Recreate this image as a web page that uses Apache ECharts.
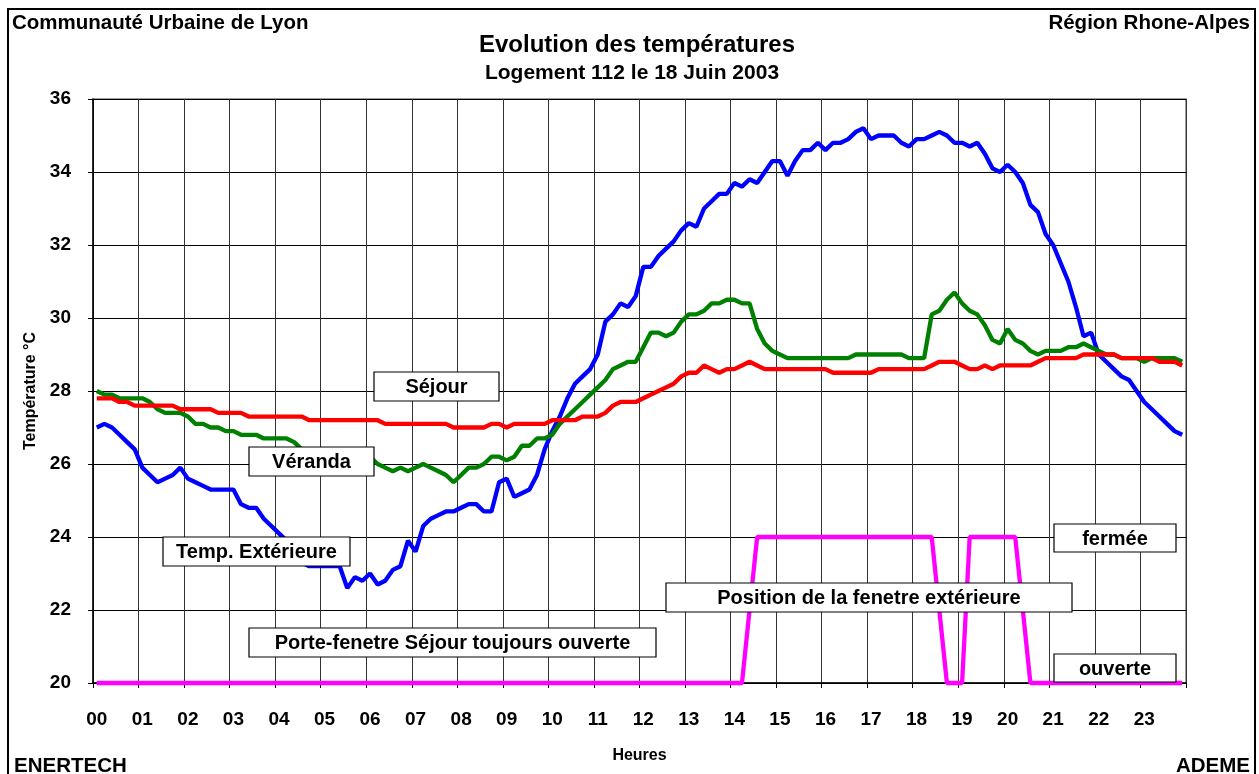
<!DOCTYPE html>
<html>
<head>
<meta charset="utf-8">
<script src="https://cdn.jsdelivr.net/npm/echarts@6/dist/echarts.min.js"></script>
<style>
  html, body { margin: 0; padding: 0; background: #fff; }
  #chart { width: 1259px; height: 774px; }
</style>
</head>
<body>
<div id="chart"></div>
<script>
// ---- Data (10-minute samples, 6 per hour) ----
const hourLabels = ['00','01','02','03','04','05','06','07','08','09','10','11',
                    '12','13','14','15','16','17','18','19','20','21','22','23'];
const yTicks = [20, 22, 24, 26, 28, 30, 32, 34, 36];

const tempExterieure = [
  [27.0,27.1,27.0,26.8,26.6,26.4],
  [25.9,25.7,25.5,25.6,25.7,25.9],
  [25.6,25.5,25.4,25.3,25.3,25.3],
  [25.3,24.9,24.8,24.8,24.5,24.3],
  [24.1,23.9,23.6,23.3,23.2,23.2],
  [23.2,23.2,23.2,22.6,22.9,22.8],
  [23.0,22.7,22.8,23.1,23.2,23.9],
  [23.6,24.3,24.5,24.6,24.7,24.7],
  [24.8,24.9,24.9,24.7,24.7,25.5],
  [25.6,25.1,25.2,25.3,25.7,26.4],
  [26.9,27.3,27.8,28.2,28.4,28.6],
  [29.0,29.9,30.1,30.4,30.3,30.6],
  [31.4,31.4,31.7,31.9,32.1,32.4],
  [32.6,32.5,33.0,33.2,33.4,33.4],
  [33.7,33.6,33.8,33.7,34.0,34.3],
  [34.3,33.9,34.3,34.6,34.6,34.8],
  [34.6,34.8,34.8,34.9,35.1,35.2],
  [34.9,35.0,35.0,35.0,34.8,34.7],
  [34.9,34.9,35.0,35.1,35.0,34.8],
  [34.8,34.7,34.8,34.5,34.1,34.0],
  [34.2,34.0,33.7,33.1,32.9,32.3],
  [32.0,31.5,31.0,30.3,29.5,29.6],
  [29.0,28.8,28.6,28.4,28.3,28.0],
  [27.7,27.5,27.3,27.1,26.9,26.8]
];

const veranda = [
  [28.0,27.9,27.9,27.8,27.8,27.8],
  [27.8,27.7,27.5,27.4,27.4,27.4],
  [27.3,27.1,27.1,27.0,27.0,26.9],
  [26.9,26.8,26.8,26.8,26.7,26.7],
  [26.7,26.7,26.6,26.4,26.3,26.2],
  [26.2,26.2,26.2,26.2,26.2,26.2],
  [26.2,26.0,25.9,25.8,25.9,25.8],
  [25.9,26.0,25.9,25.8,25.7,25.5],
  [25.7,25.9,25.9,26.0,26.2,26.2],
  [26.1,26.2,26.5,26.5,26.7,26.7],
  [26.8,27.1,27.3,27.5,27.7,27.9],
  [28.1,28.3,28.6,28.7,28.8,28.8],
  [29.2,29.6,29.6,29.5,29.6,29.9],
  [30.1,30.1,30.2,30.4,30.4,30.5],
  [30.5,30.4,30.4,29.7,29.3,29.1],
  [29.0,28.9,28.9,28.9,28.9,28.9],
  [28.9,28.9,28.9,28.9,29.0,29.0],
  [29.0,29.0,29.0,29.0,29.0,28.9],
  [28.9,28.9,30.1,30.2,30.5,30.7],
  [30.4,30.2,30.1,29.8,29.4,29.3],
  [29.7,29.4,29.3,29.1,29.0,29.1],
  [29.1,29.1,29.2,29.2,29.3,29.2],
  [29.1,29.0,29.0,28.9,28.9,28.9],
  [28.8,28.9,28.9,28.9,28.9,28.8]
];

const sejour = [
  [27.8,27.8,27.8,27.7,27.7,27.6],
  [27.6,27.6,27.6,27.6,27.6,27.5],
  [27.5,27.5,27.5,27.5,27.4,27.4],
  [27.4,27.4,27.3,27.3,27.3,27.3],
  [27.3,27.3,27.3,27.3,27.2,27.2],
  [27.2,27.2,27.2,27.2,27.2,27.2],
  [27.2,27.2,27.1,27.1,27.1,27.1],
  [27.1,27.1,27.1,27.1,27.1,27.0],
  [27.0,27.0,27.0,27.0,27.1,27.1],
  [27.0,27.1,27.1,27.1,27.1,27.1],
  [27.2,27.2,27.2,27.2,27.3,27.3],
  [27.3,27.4,27.6,27.7,27.7,27.7],
  [27.8,27.9,28.0,28.1,28.2,28.4],
  [28.5,28.5,28.7,28.6,28.5,28.6],
  [28.6,28.7,28.8,28.7,28.6,28.6],
  [28.6,28.6,28.6,28.6,28.6,28.6],
  [28.6,28.5,28.5,28.5,28.5,28.5],
  [28.5,28.6,28.6,28.6,28.6,28.6],
  [28.6,28.6,28.7,28.8,28.8,28.8],
  [28.7,28.6,28.6,28.7,28.6,28.7],
  [28.7,28.7,28.7,28.7,28.8,28.9],
  [28.9,28.9,28.9,28.9,29.0,29.0],
  [29.0,29.0,29.0,28.9,28.9,28.9],
  [28.9,28.9,28.8,28.8,28.8,28.7]
];

// 20 = ouverte, 24 = fermée
const positionFenetre = [
  [20,20,20,20,20,20],[20,20,20,20,20,20],[20,20,20,20,20,20],[20,20,20,20,20,20],
  [20,20,20,20,20,20],[20,20,20,20,20,20],[20,20,20,20,20,20],[20,20,20,20,20,20],
  [20,20,20,20,20,20],[20,20,20,20,20,20],[20,20,20,20,20,20],[20,20,20,20,20,20],
  [20,20,20,20,20,20],[20,20,20,20,20,20],
  [20,20,22,24,24,24],
  [24,24,24,24,24,24],[24,24,24,24,24,24],[24,24,24,24,24,24],
  [24,24,24,22,20,20],
  [20,24,24,24,24,24],
  [24,24,22,20,20,20],
  [20,20,20,20,20,20],[20,20,20,20,20,20],[20,20,20,20,20,20]
];

const annotations = [
  { text: 'Séjour', x: 374, y: 372, w: 125, h: 29 },
  { text: 'Véranda', x: 249, y: 447, w: 125, h: 29 },
  { text: 'Temp. Extérieure', x: 163, y: 537, w: 187, h: 29 },
  { text: 'Porte-fenetre Séjour toujours ouverte', x: 249, y: 628, w: 407, h: 29 },
  { text: 'Position de la fenetre extérieure', x: 666, y: 583, w: 406, h: 29 },
  { text: 'fermée', x: 1054, y: 524, w: 122, h: 28 },
  { text: 'ouverte', x: 1054, y: 654, w: 122, h: 28 }
];

// ---- Build ----
const FONT = '"Liberation Sans", Arial, Helvetica, sans-serif';
const categories = [];
hourLabels.forEach(h => { for (let i = 0; i < 6; i++) categories.push(h); });
const flat = a => a.reduce((acc, r) => acc.concat(r), []);

const chart = echarts.init(document.getElementById('chart'), null, { renderer: 'canvas' });

const graphics = [
  { type: 'rect', shape: { x: 8, y: 9, width: 1247, height: 790 },
    style: { fill: 'none', stroke: '#000', lineWidth: 2 }, z: 0, silent: true },
  { type: 'text', x: 12, y: 23, style: { text: 'Communauté Urbaine de Lyon', font: 'bold 20.5px ' + FONT, fill: '#000', textAlign: 'left', textVerticalAlign: 'middle' } },
  { type: 'text', x: 1250, y: 23, style: { text: 'Région Rhone-Alpes', font: 'bold 20.5px ' + FONT, fill: '#000', textAlign: 'right', textVerticalAlign: 'middle' } },
  { type: 'text', x: 637, y: 45, style: { text: 'Evolution des températures', font: 'bold 24px ' + FONT, fill: '#000', textAlign: 'center', textVerticalAlign: 'middle' } },
  { type: 'text', x: 632, y: 73, style: { text: 'Logement 112 le 18 Juin 2003', font: 'bold 21px ' + FONT, fill: '#000', textAlign: 'center', textVerticalAlign: 'middle' } },
  { type: 'text', x: 14, y: 766, style: { text: 'ENERTECH', font: 'bold 20.5px ' + FONT, fill: '#000', textAlign: 'left', textVerticalAlign: 'middle' } },
  { type: 'text', x: 1250, y: 766, style: { text: 'ADEME', font: 'bold 20.5px ' + FONT, fill: '#000', textAlign: 'right', textVerticalAlign: 'middle' } }
];
annotations.forEach(a => {
  graphics.push({
    type: 'group', z: 100,
    children: [
      { type: 'rect', shape: { x: a.x, y: a.y, width: a.w, height: a.h },
        style: { fill: '#fff', stroke: '#000', lineWidth: 1.2 }, z: 100 },
      { type: 'text', x: a.x + a.w / 2, y: a.y + a.h / 2 + 1,
        style: { text: a.text, font: 'bold 20px ' + FONT, fill: '#000', textAlign: 'center', textVerticalAlign: 'middle' }, z: 101 }
    ]
  });
});

const lineSeries = (name, data, color, z, clip) => ({
  name, type: 'line', data: flat(data), showSymbol: false, symbol: 'none',
  lineStyle: { color, width: 4.3 }, itemStyle: { color }, z, clip: clip,
  emphasis: { disabled: true }, silent: true
});

chart.setOption({
  animation: false,
  backgroundColor: '#fff',
  textStyle: { fontFamily: FONT },
  grid: { left: 93, top: 99, width: 1093, height: 584, show: true,
          borderColor: '#808080', borderWidth: 1.5, backgroundColor: 'transparent' },
  xAxis: {
    type: 'category', data: categories, boundaryGap: true,
    name: 'Heures', nameLocation: 'middle', nameGap: 65,
    nameTextStyle: { fontFamily: FONT, fontWeight: 'bold', fontSize: 16, color: '#000' },
    axisLine: { show: true, lineStyle: { color: '#000', width: 1.5 } },
    axisTick: { show: true, interval: 5, length: 5, inside: false, lineStyle: { color: '#000' } },
    axisLabel: { interval: 5, margin: 27, fontFamily: FONT, fontWeight: 'bold', fontSize: 19, color: '#000' },
    splitLine: { show: true, interval: 5, lineStyle: { color: '#333', width: 1 } }
  },
  yAxis: {
    type: 'value', min: yTicks[0], max: yTicks[yTicks.length - 1], interval: 2,
    name: 'Température °C', nameLocation: 'middle', nameGap: 45, nameRotate: 90,
    nameTextStyle: { fontFamily: FONT, fontWeight: 'bold', fontSize: 16, color: '#000' },
    axisLine: { show: true, lineStyle: { color: '#000', width: 1.5 } },
    axisTick: { show: true, length: 5, inside: false, lineStyle: { color: '#000' } },
    axisLabel: { margin: 22, fontFamily: FONT, fontWeight: 'bold', fontSize: 19, color: '#000' },
    splitLine: { show: true, lineStyle: { color: '#000', width: 1 } }
  },
  series: [
    lineSeries('Temp. Extérieure', tempExterieure, '#0000FF', 2, true),
    lineSeries('Véranda', veranda, '#008000', 3, true),
    lineSeries('Séjour', sejour, '#FF0000', 4, true),
    lineSeries('Position de la fenetre extérieure', positionFenetre, '#FF00FF', 5, false)
  ],
  graphic: graphics
});
</script>
</body>
</html>
